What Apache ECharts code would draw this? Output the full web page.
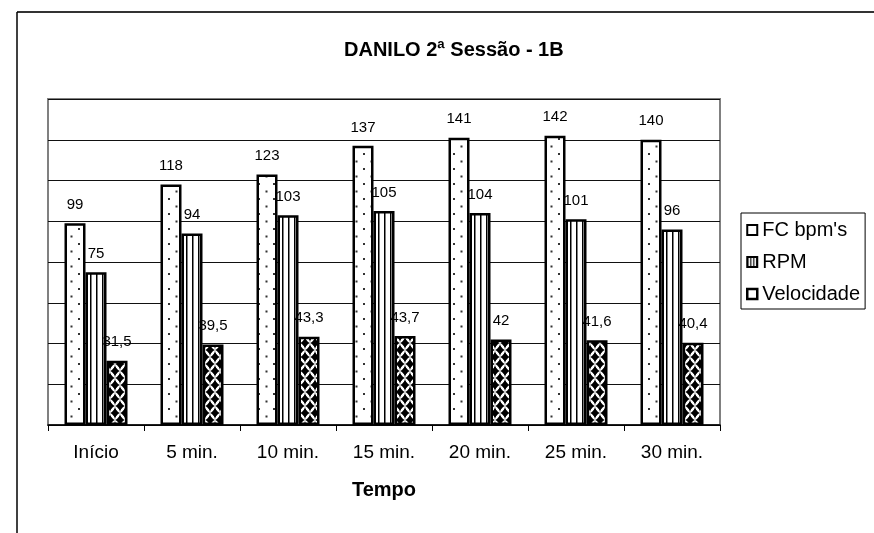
<!DOCTYPE html>
<html>
<head>
<meta charset="utf-8">
<script src="https://cdn.jsdelivr.net/npm/echarts@6/dist/echarts.min.js"></script>
<style>
html,body{margin:0;padding:0;background:#fff;}
#c{width:874px;height:533px;}
</style>
</head>
<body>
<div id="c"></div>
<script>
const categories = ['Início', '5 min.', '10 min.', '15 min.', '20 min.', '25 min.', '30 min.'];
const fcValues = [99, 118, 123, 137, 141, 142, 140];
const rpmValues = [75, 94, 103, 105, 104, 101, 96];
const velValues = [31.5, 39.5, 43.3, 43.7, 42, 41.6, 40.4];
const seriesNames = ["FC bpm's", 'RPM', 'Velocidade'];
const yTicks = {min: 0, max: 160, interval: 20};

function makeTile(w, h, draw) {
  const c = document.createElement('canvas');
  c.width = w; c.height = h;
  const g = c.getContext('2d');
  draw(g, w, h);
  return c;
}
const dotTile = makeTile(15, 15, (g, w, h) => {
  g.fillStyle = '#fff'; g.fillRect(0, 0, w, h);
  g.fillStyle = '#333';
  g.fillRect(3, 3, 2, 2);
  g.fillRect(10.5, 10.5, 2, 2);
});
const stripeTile = makeTile(6, 6, (g, w, h) => {
  g.fillStyle = '#fff'; g.fillRect(0, 0, w, h);
  g.fillStyle = '#000';
  g.fillRect(0, 0, 1.5, h);
});
const legendStripeTile = makeTile(3, 3, (g, w, h) => {
  g.fillStyle = '#fff'; g.fillRect(0, 0, w, h);
  g.fillStyle = '#000';
  g.fillRect(0, 0, 1.2, h);
});
const diamondTile = makeTile(10, 14, (g, w, h) => {
  g.fillStyle = '#fff'; g.fillRect(0, 0, w, h);
  g.fillStyle = '#000';
  const pts = [[0,0],[10,0],[0,14],[10,14],[5,7]];
  pts.forEach(([x,y]) => {
    g.beginPath();
    g.moveTo(x, y - 6);
    g.quadraticCurveTo(x + 1, y - 1, x + 5, y);
    g.quadraticCurveTo(x + 1, y + 1, x, y + 6);
    g.quadraticCurveTo(x - 1, y + 1, x - 5, y);
    g.quadraticCurveTo(x - 1, y - 1, x, y - 6);
    g.closePath();
    g.fill();
    g.beginPath();
    g.moveTo(x, y - 4.2);
    g.lineTo(x + 3.8, y);
    g.lineTo(x, y + 4.2);
    g.lineTo(x - 3.8, y);
    g.closePath();
    g.fill();
  });
});

const chart = echarts.init(document.getElementById('c'), null, {renderer: 'canvas'});
const fontFam = '"Liberation Sans", Arial, sans-serif';
function labelCfg(fmt) {
  return {
    show: true, position: 'top', distance: 11,
    fontSize: 15, color: '#000', fontFamily: fontFam,
    formatter: fmt
  };
}
const commaFmt = p => String(p.value).replace('.', ',');

chart.setOption({
  animation: false,
  backgroundColor: '#fff',
  textStyle: {fontFamily: fontFam},
  title: {
    text: 'DANILO 2ª Sessão - 1B',
    left: 344, top: 40, padding: 0,
    textStyle: {fontSize: 20, fontWeight: 'bold', color: '#000', fontFamily: fontFam}
  },
  graphic: [
    {type: 'line', shape: {x1: 17, y1: 12, x2: 874, y2: 12}, style: {stroke: '#333', lineWidth: 2}},
    {type: 'line', shape: {x1: 17, y1: 12, x2: 17, y2: 533}, style: {stroke: '#000', lineWidth: 1.5}}
  ],
  legend: {
    orient: 'vertical',
    left: 741, top: 213,
    padding: [7, 5, 5, 5],
    itemWidth: 10, itemHeight: 10, itemGap: 12, itemTextGap: 3,
    icon: 'rect',
    borderColor: '#000', borderWidth: 1,
    backgroundColor: '#fff',
    textStyle: {fontSize: 20, color: '#000', fontFamily: fontFam, lineHeight: 20},
    data: [
      {name: seriesNames[0], itemStyle: {color: '#fff', borderColor: '#000', borderWidth: 2}},
      {name: seriesNames[1], itemStyle: {color: {image: legendStripeTile, repeat: 'repeat'}, borderColor: '#000', borderWidth: 2}},
      {name: seriesNames[2], itemStyle: {color: '#fff', borderColor: '#000', borderWidth: 2.5}}
    ]
  },
  grid: {
    left: 48, right: 154, top: 99, bottom: 108,
    show: true, borderColor: '#808080', borderWidth: 2, backgroundColor: '#fff'
  },
  xAxis: {
    type: 'category',
    data: categories,
    name: 'Tempo',
    nameLocation: 'middle',
    nameGap: 55,
    nameTextStyle: {fontSize: 20, fontWeight: 'bold', color: '#000', fontFamily: fontFam},
    axisLine: {lineStyle: {color: '#000', width: 1.5}},
    axisTick: {show: true, length: 6, lineStyle: {color: '#000', width: 1}},
    axisLabel: {fontSize: 19, color: '#000', margin: 18, fontFamily: fontFam},
    splitLine: {show: false}
  },
  yAxis: {
    type: 'value',
    min: yTicks.min, max: yTicks.max, interval: yTicks.interval,
    axisLine: {show: false},
    axisTick: {show: false},
    axisLabel: {show: false},
    splitLine: {show: true, lineStyle: {color: '#111', width: 1}}
  },
  series: [
    {
      name: seriesNames[0], type: 'bar', data: fcValues,
      barWidth: 21, barGap: '0%',
      itemStyle: {color: {image: dotTile, repeat: 'repeat'}, borderColor: '#000', borderWidth: 2.5},
      label: labelCfg(commaFmt)
    },
    {
      name: seriesNames[1], type: 'bar', data: rpmValues,
      barWidth: 21, barGap: '0%',
      itemStyle: {color: {image: stripeTile, repeat: 'repeat'}, borderColor: '#000', borderWidth: 2.5},
      label: labelCfg(commaFmt)
    },
    {
      name: seriesNames[2], type: 'bar', data: velValues,
      barWidth: 21, barGap: '0%',
      itemStyle: {color: {image: diamondTile, repeat: 'repeat'}, borderColor: '#000', borderWidth: 2.5},
      label: labelCfg(commaFmt)
    }
  ]
});
</script>
</body>
</html>
